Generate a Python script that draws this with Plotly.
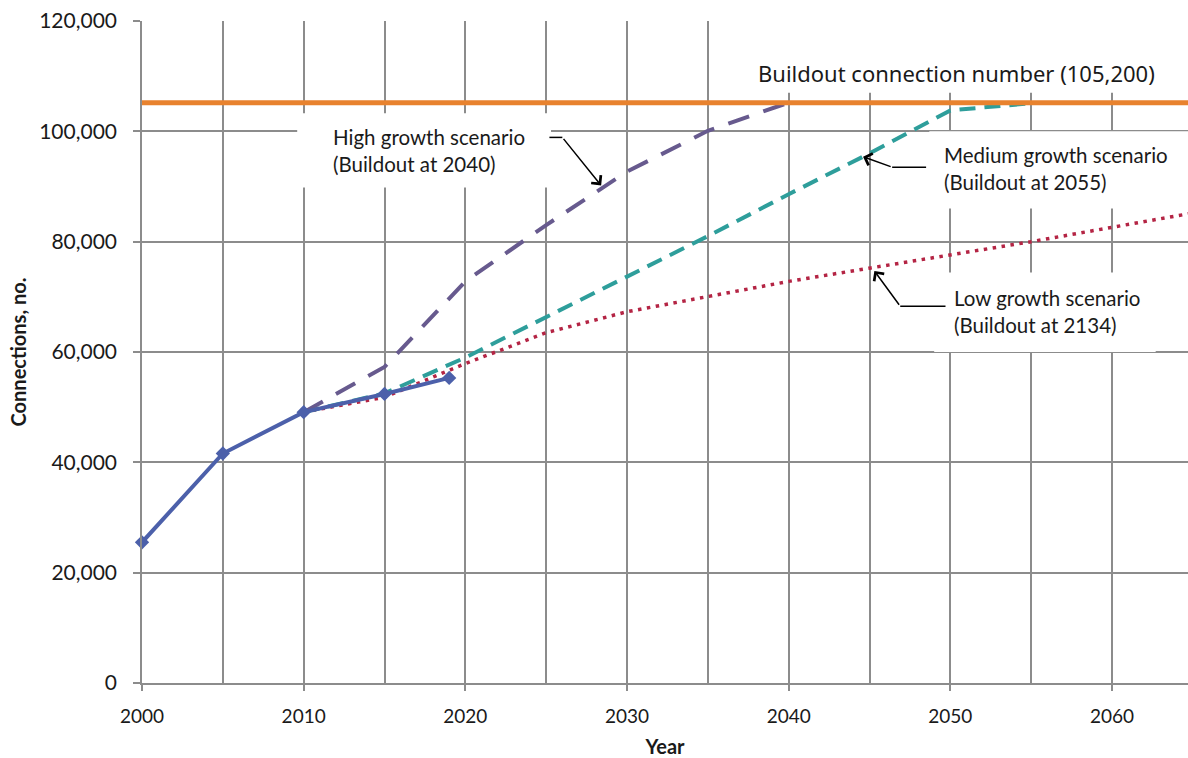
"""Connection growth scenarios vs buildout number."""

import plotly.graph_objects as go

BUILDOUT = 105200

hist_years = [2000, 2005, 2010, 2015, 2019]
hist_conn = [25500, 41600, 49100, 52400, 55300]

high_years = [2010, 2015, 2020, 2025, 2030, 2035, 2040]
high_conn = [49100, 57300, 72800, 83000, 92700, 100100, 105200]

med_years = [2010, 2015, 2020, 2025, 2030, 2035, 2040, 2045, 2050, 2055]
med_conn = [49100, 52500, 59000, 66300, 73800, 81000, 88600, 96000, 103800, 105100]

low_years = [2010, 2015, 2020, 2025, 2030, 2035, 2040, 2045, 2050, 2055, 2060, 2065]
low_conn = [49100, 51800, 57900, 63500, 67300, 70100, 72800, 75200, 77600, 80000, 82600, 85200]

GRID = "#8c8c8c"
TEXT_FONT = "Lato, 'Open Sans', sans-serif"

fig = go.Figure()

fig.add_trace(go.Scatter(
    x=low_years, y=low_conn, mode="lines",
    line=dict(color="#b42444", width=3.5, dash="3.5px,5.5px"),
))
fig.add_trace(go.Scatter(
    x=med_years, y=med_conn, mode="lines",
    line=dict(color="#2e9e9b", width=4, dash="16px,9px"),
))
fig.add_trace(go.Scatter(
    x=high_years, y=high_conn, mode="lines",
    line=dict(color="#675a8e", width=4, dash="22px,15px"),
))
# buildout ceiling
fig.add_trace(go.Scatter(
    x=[2000, 2065], y=[BUILDOUT, BUILDOUT], mode="lines",
    line=dict(color="#e8822e", width=5), hoverinfo="skip",
))
fig.add_trace(go.Scatter(
    x=hist_years, y=hist_conn, mode="lines+markers", cliponaxis=False,
    line=dict(color="#4c60aa", width=4),
    marker=dict(symbol="diamond", size=11, color="#4c60aa"),
))

# white label backgrounds (sit over the grid, under the lines)
for x0, x1, y0, y1 in [
    (2009.6, 2025.3, 89800, 103300),
    (2048.7, 2065, 86000, 100000),
    (2049.0, 2062.7, 60000, 74400),
    (2037.3, 2065, 107000, 121000),
]:
    fig.add_shape(type="rect", xref="x", yref="y", x0=x0, x1=x1, y0=y0, y1=y1,
                  fillcolor="white", line=dict(width=0), layer="between")

labels = [
    ("High growth scenario<br>(Buildout at 2040)", 2011.7, 96500),
    ("Medium growth scenario<br>(Buildout at 2055)", 2049.5, 93300),
    ("Low growth scenario<br>(Buildout at 2134)", 2050.1, 67400),
]
for text, x, y in labels:
    fig.add_annotation(x=x, y=y, text=text, showarrow=False, xanchor="left",
                       yanchor="middle", align="left",
                       font=dict(family=TEXT_FONT, size=20.5, color="#1a1a1a"))

fig.add_annotation(x=2038.0, y=110500, text="Buildout connection number (105,200)",
                   showarrow=False, xanchor="left", yanchor="middle",
                   font=dict(family="'Noto Sans', sans-serif", size=22, color="#1a1a1a"))

# elbow connectors: (start, elbow, tip)
connectors = [
    ((2025.2, 98900), (2026.0, 98900), (2028.4, 90200)),
    ((2048.5, 93500), (2046.4, 93500), (2044.6, 95400)),
    ((2049.7, 68300), (2046.9, 68300), (2045.3, 74700)),
]
for start, elbow, tip in connectors:
    fig.add_shape(type="line", xref="x", yref="y", x0=start[0], y0=start[1],
                  x1=elbow[0], y1=elbow[1], line=dict(color="black", width=1.5))
    fig.add_annotation(x=tip[0], y=tip[1], ax=elbow[0], ay=elbow[1],
                       axref="x", ayref="y", text="", showarrow=True,
                       arrowhead=4, arrowsize=1.6, arrowwidth=1.5,
                       arrowcolor="black", standoff=0)

fig.update_layout(
    width=1188, height=758,
    margin=dict(l=142, r=0, t=21, b=75),
    paper_bgcolor="white", plot_bgcolor="white",
    showlegend=False,
    font=dict(family=TEXT_FONT, color="#1a1a1a"),
)
fig.update_xaxes(
    range=[2000, 2064.7], tick0=2000, dtick=10,
    showgrid=True, gridcolor=GRID, gridwidth=1.5,
    minor=dict(tick0=2000, dtick=5, showgrid=True, gridcolor=GRID, gridwidth=1.5),
    showline=True, linecolor=GRID, linewidth=1.5,
    ticks="outside", ticklen=6, tickcolor=GRID, tickwidth=1.5,
    tickfont=dict(size=19), ticklabelstandoff=9, zeroline=False,
    title=dict(text="<b>Year</b>", font=dict(size=20), standoff=14),
)
fig.update_yaxes(
    range=[0, 120000], dtick=20000, tickformat=",d",
    showgrid=True, gridcolor=GRID, gridwidth=1.5,
    showline=True, linecolor=GRID, linewidth=1.5,
    ticks="outside", ticklen=7, tickcolor=GRID, tickwidth=1.5,
    tickfont=dict(size=21), ticklabelstandoff=12, zeroline=False,
    title=dict(text="<b>Connections, no.</b>", font=dict(size=20), standoff=7),
)

fig.write_html("out.html", config={"displayModeBar": False},
               post_script="document.body.style.margin='0';")
